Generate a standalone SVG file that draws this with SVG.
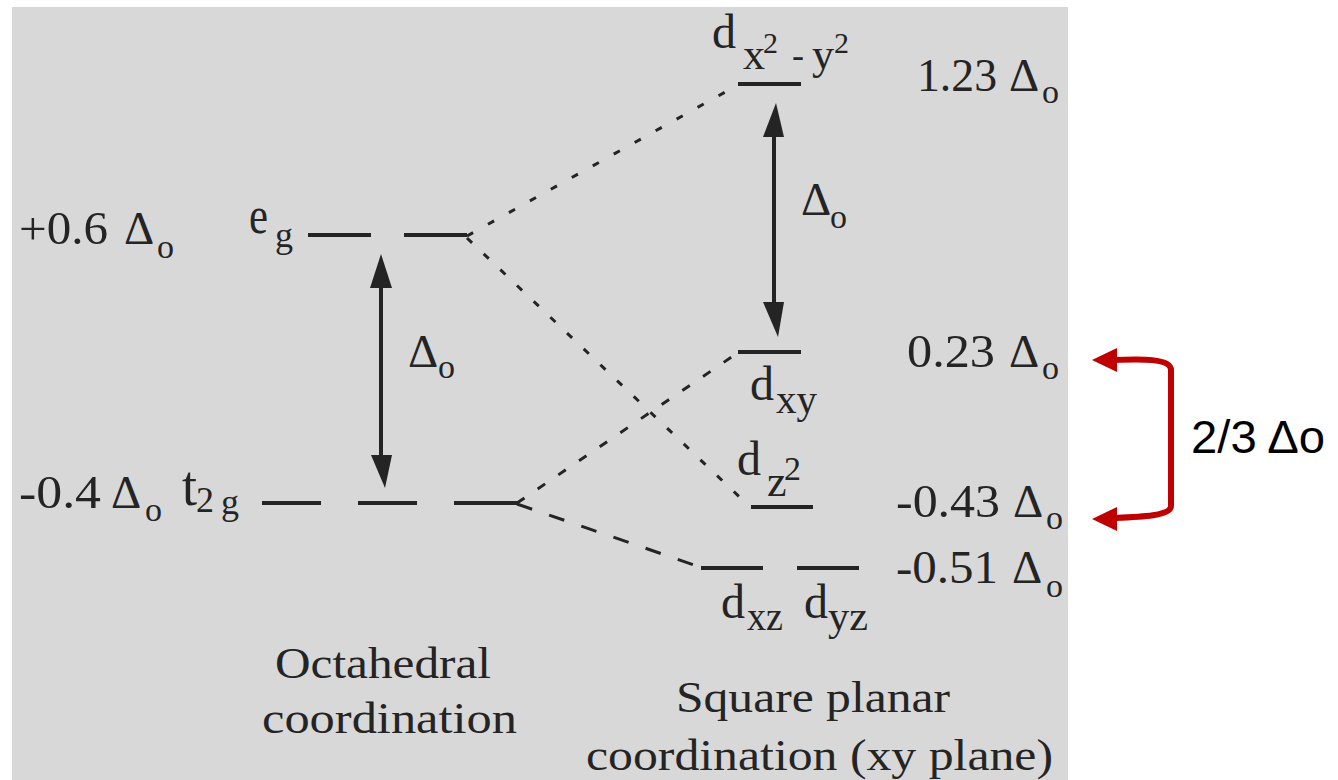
<svg xmlns="http://www.w3.org/2000/svg" width="1338" height="780" viewBox="0 0 1338 780">
  <style>
    .t { font-family: "Liberation Serif", "Times New Roman", serif; fill: #242424; }
    .n { font-size: 47px; }
    .sub { font-size: 34px; }
    .lvl { stroke: #242424; stroke-width: 4; fill: none; }
    .dash { stroke: #242424; stroke-width: 3; fill: none; }
    .ar { fill: #242424; }
    .red { stroke: #c00000; stroke-width: 6; fill: none; stroke-linecap: round; stroke-linejoin: round; }
    .redh { fill: #c00000; }
    .lab { font-family: "Liberation Sans", Arial, sans-serif; font-size: 46px; fill: #000; }
  </style>
  <rect x="12" y="7" width="1056" height="773" fill="#d8d8d8"/>

  <g id="connectors">
    <line class="dash" x1="467" y1="236" x2="736" y2="86" stroke-dasharray="7 17"/>
    <line class="dash" x1="467" y1="238" x2="748" y2="505" stroke-dasharray="7 16"/>
    <line class="dash" x1="517" y1="503" x2="736" y2="354" stroke-dasharray="9 16"/>
    <line class="dash" x1="517" y1="504" x2="700" y2="567" stroke-dasharray="16 18"/>
    <line class="lvl" x1="381" y1="282" x2="381" y2="460"/>
    <polygon class="ar" points="381,254 392,288 370,288"/>
    <polygon class="ar" points="385,488 392,455 371,455"/>
    <line class="lvl" x1="774" y1="130" x2="774" y2="310"/>
    <polygon class="ar" points="776,103 784,137 763,137"/>
    <polygon class="ar" points="778,337 784,302 763,302"/>
    <path class="red" d="M1114,360 C1140,359 1171,358 1171,370 L1171,506 C1171,516 1140,517 1114,518"/>
    <polygon class="redh" points="1092,360 1117,348 1117,372"/>
    <polygon class="redh" points="1092,519 1117,507 1117,531"/>
  </g>

  <g id="eg">
    <line class="lvl" x1="308" y1="235" x2="371" y2="235"/>
    <line class="lvl" x1="404" y1="235" x2="467" y2="235"/>
    <text class="t" x="249" y="233" font-size="52" textLength="19" lengthAdjust="spacingAndGlyphs">e</text>
    <text class="t" x="275" y="247" font-size="36">g</text>
    <text class="t n" x="19" y="244" textLength="89" lengthAdjust="spacingAndGlyphs">+0.6</text>
    <text class="t n" x="124" y="244">Δ</text>
    <text class="t sub" x="157" y="258">o</text>
  </g>

  <g id="t2g">
    <line class="lvl" x1="262" y1="503" x2="321" y2="503"/>
    <line class="lvl" x1="358" y1="503" x2="417" y2="503"/>
    <line class="lvl" x1="454" y1="503" x2="517" y2="503"/>
    <text class="t" x="182" y="505" font-size="56" textLength="15" lengthAdjust="spacingAndGlyphs">t</text>
    <text class="t" x="196" y="512" font-size="36">2</text>
    <text class="t" x="221" y="514" font-size="36">g</text>
    <text class="t n" x="19" y="508" textLength="82" lengthAdjust="spacingAndGlyphs">-0.4</text>
    <text class="t n" x="111" y="508">Δ</text>
    <text class="t sub" x="145" y="521">o</text>
  </g>

  <g id="delta-left">
    <text class="t n" x="408" y="367">Δ</text>
    <text class="t sub" x="438" y="378">o</text>
  </g>

  <g id="delta-right">
    <text class="t n" x="801" y="215">Δ</text>
    <text class="t sub" x="830" y="228">o</text>
  </g>

  <g id="dx2y2">
    <line class="lvl" x1="738" y1="84" x2="801" y2="84"/>
    <text class="t" x="712" y="48" font-size="48">d</text>
    <text class="t" x="743" y="69" font-size="44">x</text>
    <text class="t" x="763" y="53" font-size="30">2</text>
    <text class="t" x="792" y="67" font-size="36">-</text>
    <text class="t" x="812" y="69" font-size="44">y</text>
    <text class="t" x="834" y="53" font-size="30">2</text>
    <text class="t n" x="917" y="91" textLength="80" lengthAdjust="spacingAndGlyphs">1.23</text>
    <text class="t n" x="1009" y="91">Δ</text>
    <text class="t sub" x="1042" y="103">o</text>
  </g>

  <g id="dxy">
    <line class="lvl" x1="738" y1="352" x2="801" y2="352"/>
    <text class="t" x="750" y="400" font-size="48">d</text>
    <text class="t" x="776" y="413" font-size="40" textLength="41" lengthAdjust="spacingAndGlyphs">xy</text>
    <text class="t n" x="907" y="367" textLength="88" lengthAdjust="spacingAndGlyphs">0.23</text>
    <text class="t n" x="1009" y="367">Δ</text>
    <text class="t sub" x="1042" y="379">o</text>
  </g>

  <g id="dz2">
    <line class="lvl" x1="751" y1="507" x2="813" y2="507"/>
    <text class="t" x="737" y="475" font-size="48">d</text>
    <text class="t" x="767" y="496" font-size="44">z</text>
    <text class="t" x="784" y="480" font-size="34">2</text>
    <text class="t n" x="896" y="517" textLength="104" lengthAdjust="spacingAndGlyphs">-0.43</text>
    <text class="t n" x="1013" y="517">Δ</text>
    <text class="t sub" x="1046" y="529">o</text>
  </g>

  <g id="dxz-dyz">
    <line class="lvl" x1="701" y1="568" x2="763" y2="568"/>
    <line class="lvl" x1="797" y1="568" x2="859" y2="568"/>
    <text class="t" x="721" y="618" font-size="48">d</text>
    <text class="t" x="747" y="630" font-size="40" textLength="36" lengthAdjust="spacingAndGlyphs">xz</text>
    <text class="t" x="804" y="618" font-size="48">d</text>
    <text class="t" x="828" y="630" font-size="40" textLength="40" lengthAdjust="spacingAndGlyphs">yz</text>
    <text class="t n" x="896" y="583" textLength="102" lengthAdjust="spacingAndGlyphs">-0.51</text>
    <text class="t n" x="1012" y="583">Δ</text>
    <text class="t sub" x="1046" y="597">o</text>
  </g>

  <g id="captions">
    <text class="t" x="275" y="678" font-size="45" textLength="216" lengthAdjust="spacingAndGlyphs">Octahedral</text>
    <text class="t" x="262" y="733" font-size="45" textLength="255" lengthAdjust="spacingAndGlyphs">coordination</text>
    <text class="t" x="676" y="712" font-size="45" textLength="274" lengthAdjust="spacingAndGlyphs">Square planar</text>
    <text class="t" x="586" y="770" font-size="45" textLength="467" lengthAdjust="spacingAndGlyphs">coordination (xy plane)</text>
  </g>

  <g id="bracket-label">
    <text class="lab" x="1191" y="453" textLength="134" lengthAdjust="spacingAndGlyphs">2/3 Δo</text>
  </g>
</svg>
